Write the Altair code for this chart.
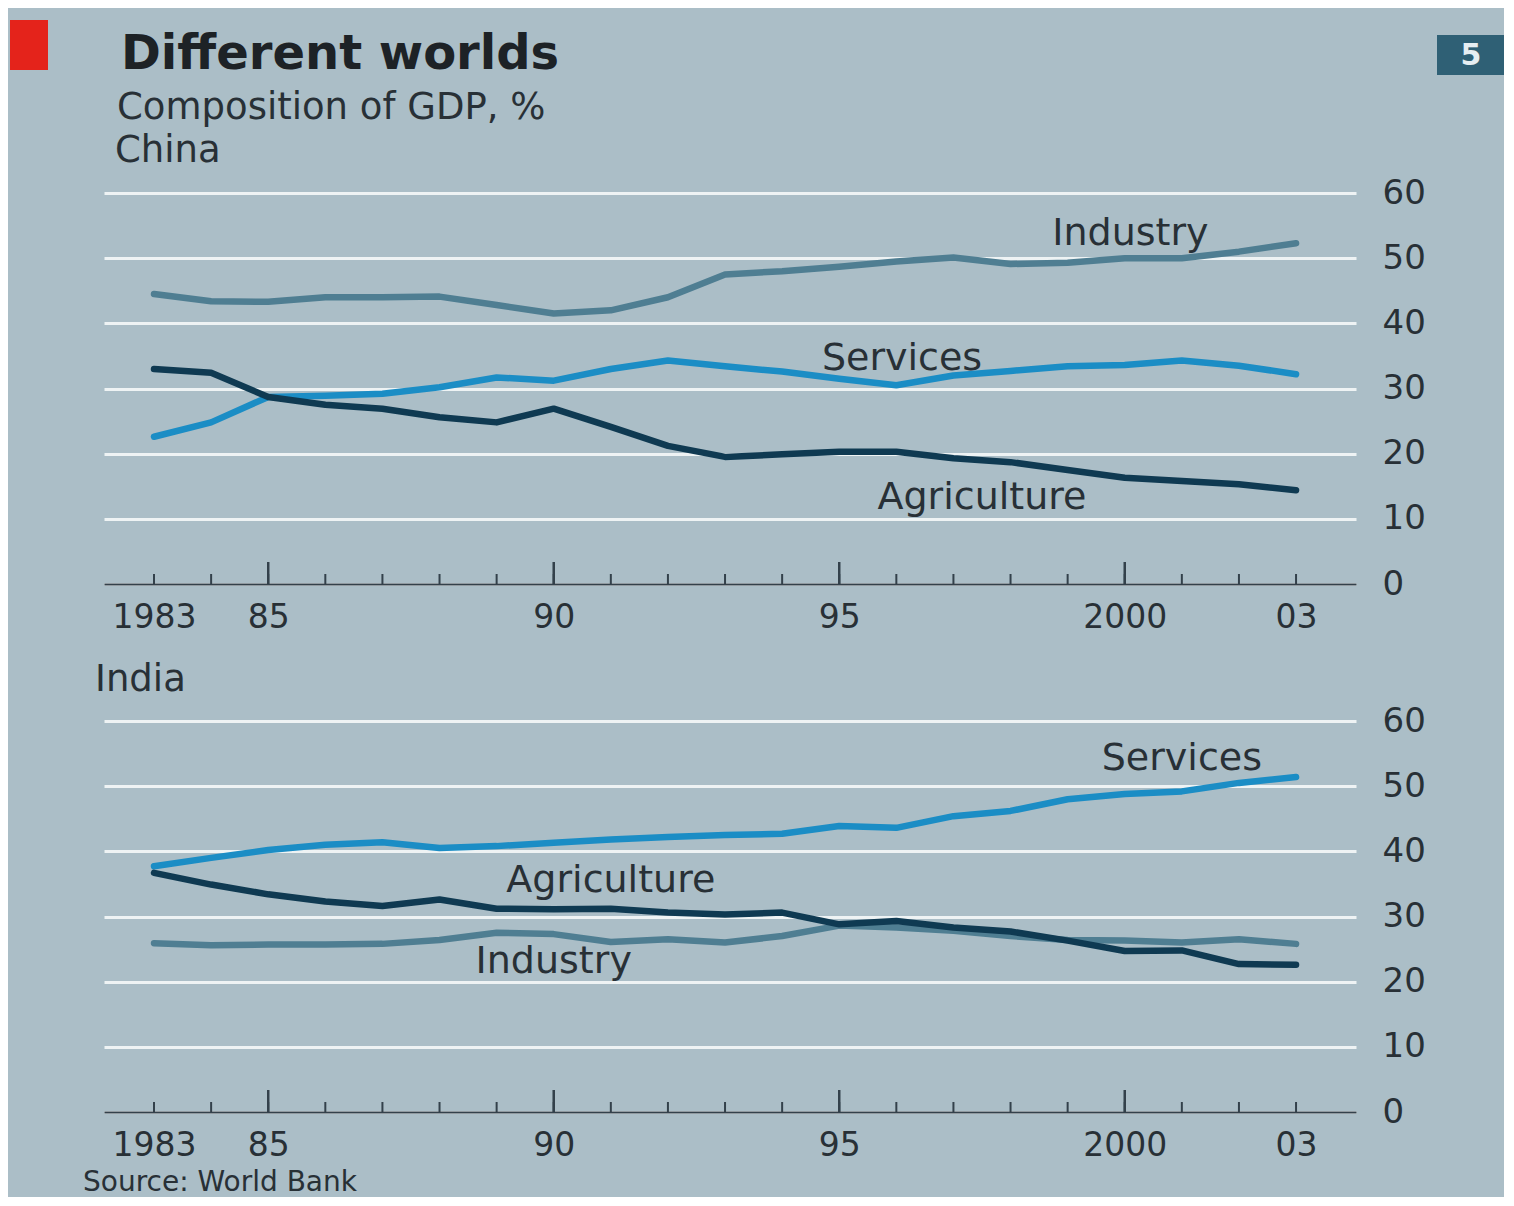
import altair as alt
import pandas as pd

# ---------------- data ----------------
years = list(range(1983, 2004))

china_industry = [44.5, 43.4, 43.3, 44.0, 44.0, 44.1, 42.8, 41.5, 42.0, 44.0, 47.5,
                  48.0, 48.7, 49.5, 50.1, 49.1, 49.3, 50.0, 50.0, 51.0, 52.3]
china_services = [22.6, 24.8, 28.7, 28.9, 29.2, 30.2, 31.7, 31.2, 33.0, 34.3, 33.4,
                  32.6, 31.5, 30.5, 32.0, 32.7, 33.4, 33.6, 34.3, 33.5, 32.2]
china_agriculture = [33.0, 32.4, 28.7, 27.5, 26.9, 25.6, 24.8, 26.9, 24.1, 21.2, 19.5,
                     19.9, 20.3, 20.3, 19.3, 18.7, 17.5, 16.3, 15.8, 15.3, 14.4]

india_industry = [25.9, 25.6, 25.7, 25.7, 25.8, 26.4, 27.5, 27.3, 26.1, 26.5, 26.0,
                  27.0, 28.6, 28.3, 27.8, 27.0, 26.4, 26.3, 26.0, 26.5, 25.8]
india_services = [37.7, 39.0, 40.2, 41.0, 41.4, 40.5, 40.8, 41.3, 41.8, 42.2, 42.5,
                  42.7, 43.9, 43.6, 45.4, 46.2, 48.0, 48.8, 49.2, 50.5, 51.4]
india_agriculture = [36.7, 34.9, 33.4, 32.3, 31.6, 32.6, 31.2, 31.1, 31.2, 30.6, 30.3,
                     30.6, 28.8, 29.3, 28.3, 27.7, 26.3, 24.7, 24.8, 22.7, 22.6]

series_names = ["Industry", "Services", "Agriculture"]
series_colors = ["#4f7e92", "#1b8dc5", "#0f3a52"]

x_tick_values = [1983, 1985, 1990, 1995, 2000, 2003]
x_tick_labels = ["1983", "85", "90", "95", "2000", "03"]
y_tick_values = [0, 10, 20, 30, 40, 50, 60]
minor_tick_years = years
major_tick_years = [1985, 1990, 1995, 2000]

china_label_text = ["Industry", "Services", "Agriculture"]
china_label_year = [2000.1, 1996.1, 1997.5]
china_label_value = [52.0, 32.8, 11.5]

india_label_text = ["Services", "Agriculture", "Industry"]
india_label_year = [2001.0, 1991.0, 1990.0]
india_label_value = [52.5, 33.7, 21.4]

title_text = "Different worlds"
subtitle_text = "Composition of GDP, %"
source_text = "Source: World Bank"
page_number = "5"

# ---------------- style ----------------
FONT = "DejaVu Sans"
TEXT = "#283036"
AXIS = "#33414b"
GRID = "#eef3f4"
BG = "#abbec7"
W, H = 1252, 391
X_DOMAIN = [1982.124, 2004.05]

label_expr = " : ".join(
    f"datum.value == {v} ? '{t}'" for v, t in zip(x_tick_values, x_tick_labels)
) + " : ''"

X_SCALE = alt.Scale(domain=X_DOMAIN, nice=False, zero=False)
Y_SCALE = alt.Scale(domain=[0, 60], nice=False, zero=True)
X_AXIS = alt.Axis(
    values=x_tick_values, labelExpr=label_expr, grid=False, ticks=False,
    domain=True, domainColor=AXIS, domainWidth=2, labelFont=FONT,
    labelFontSize=33, labelColor=TEXT, labelPadding=17, title=None,
    zindex=1, labelFlush=False, labelOverlap=False)
Y_AXIS = alt.Axis(
    orient="right", values=y_tick_values, grid=True, gridColor=GRID,
    gridWidth=3, domain=False, ticks=False, labelFont=FONT,
    labelFontSize=34, labelColor=TEXT, labelPadding=26, title=None,
    labelFlush=False)


def X():
    return alt.X("year:Q", scale=X_SCALE, axis=X_AXIS)


def Y():
    return alt.Y("value:Q", scale=Y_SCALE, axis=Y_AXIS)


def note(text, x, y, size, weight="normal", color=TEXT, align="left", baseline="alphabetic"):
    return alt.Chart(pd.DataFrame({"t": [text]})).mark_text(
        align=align, baseline=baseline, fontSize=size, fontWeight=weight,
        color=color, font=FONT
    ).encode(text="t:N", x=alt.value(x), y=alt.value(y))


def panel(ind, ser, agr, lab_text, lab_year, lab_value, extras):
    df = pd.DataFrame({
        "year": years * 3,
        "series": ["Industry"] * len(years) + ["Services"] * len(years) + ["Agriculture"] * len(years),
        "value": ind + ser + agr,
    })

    lines = alt.Chart(df).mark_line(
        strokeWidth=6.5, strokeCap="round", strokeJoin="round"
    ).encode(
        x=X(),
        y=Y(),
        color=alt.Color("series:N", scale=alt.Scale(domain=series_names, range=series_colors),
                        legend=None),
        detail="series:N",
    )

    minor = alt.Chart(pd.DataFrame({"year": minor_tick_years})).mark_rule(
        color=AXIS, strokeWidth=2
    ).encode(x=X(), y=alt.value(H), y2=alt.value(H - 10))

    major = alt.Chart(pd.DataFrame({"year": major_tick_years})).mark_rule(
        color=AXIS, strokeWidth=2.5
    ).encode(x=X(), y=alt.value(H), y2=alt.value(H - 22))

    labels = alt.Chart(pd.DataFrame({
        "label": lab_text, "year": lab_year, "value": lab_value
    })).mark_text(
        align="center", baseline="alphabetic", fontSize=38, font=FONT, color=TEXT
    ).encode(x=X(), y=Y(), text="label:N")

    return alt.layer(lines, minor, major, labels, *extras).properties(width=W, height=H)


china_extras = [
    alt.Chart(pd.DataFrame({"k": [0]})).mark_rect(color="#e4231b").encode(
        x=alt.value(-94), x2=alt.value(-56), y=alt.value(-173), y2=alt.value(-123)),
    alt.Chart(pd.DataFrame({"k": [0]})).mark_rect(color="#2f6075").encode(
        x=alt.value(1333), x2=alt.value(1400), y=alt.value(-158), y2=alt.value(-118)),
    note(page_number, 1367, -137, 30, weight="bold", color="#e6eef2",
         align="center", baseline="middle"),
    note(title_text, 17, -124, 48, weight="bold", color="#1d2226"),
    note(subtitle_text, 13, -74, 37),
    note("China", 11, -31, 37),
]

india_extras = [
    note("India", -9, -30, 37),
    note(source_text, -21, 470, 28),
]

china = panel(china_industry, china_services, china_agriculture,
              china_label_text, china_label_year, china_label_value, china_extras)
india = panel(india_industry, india_services, india_agriculture,
              india_label_text, india_label_year, india_label_value, india_extras)

chart = alt.vconcat(china, india, spacing=137, bounds="flush").properties(
    padding={"left": 2, "top": 12, "right": 0, "bottom": 0},
    background=BG,
).configure_view(stroke=None)

chart.save("out.html", embed_options={"renderer": "svg", "actions": False})
